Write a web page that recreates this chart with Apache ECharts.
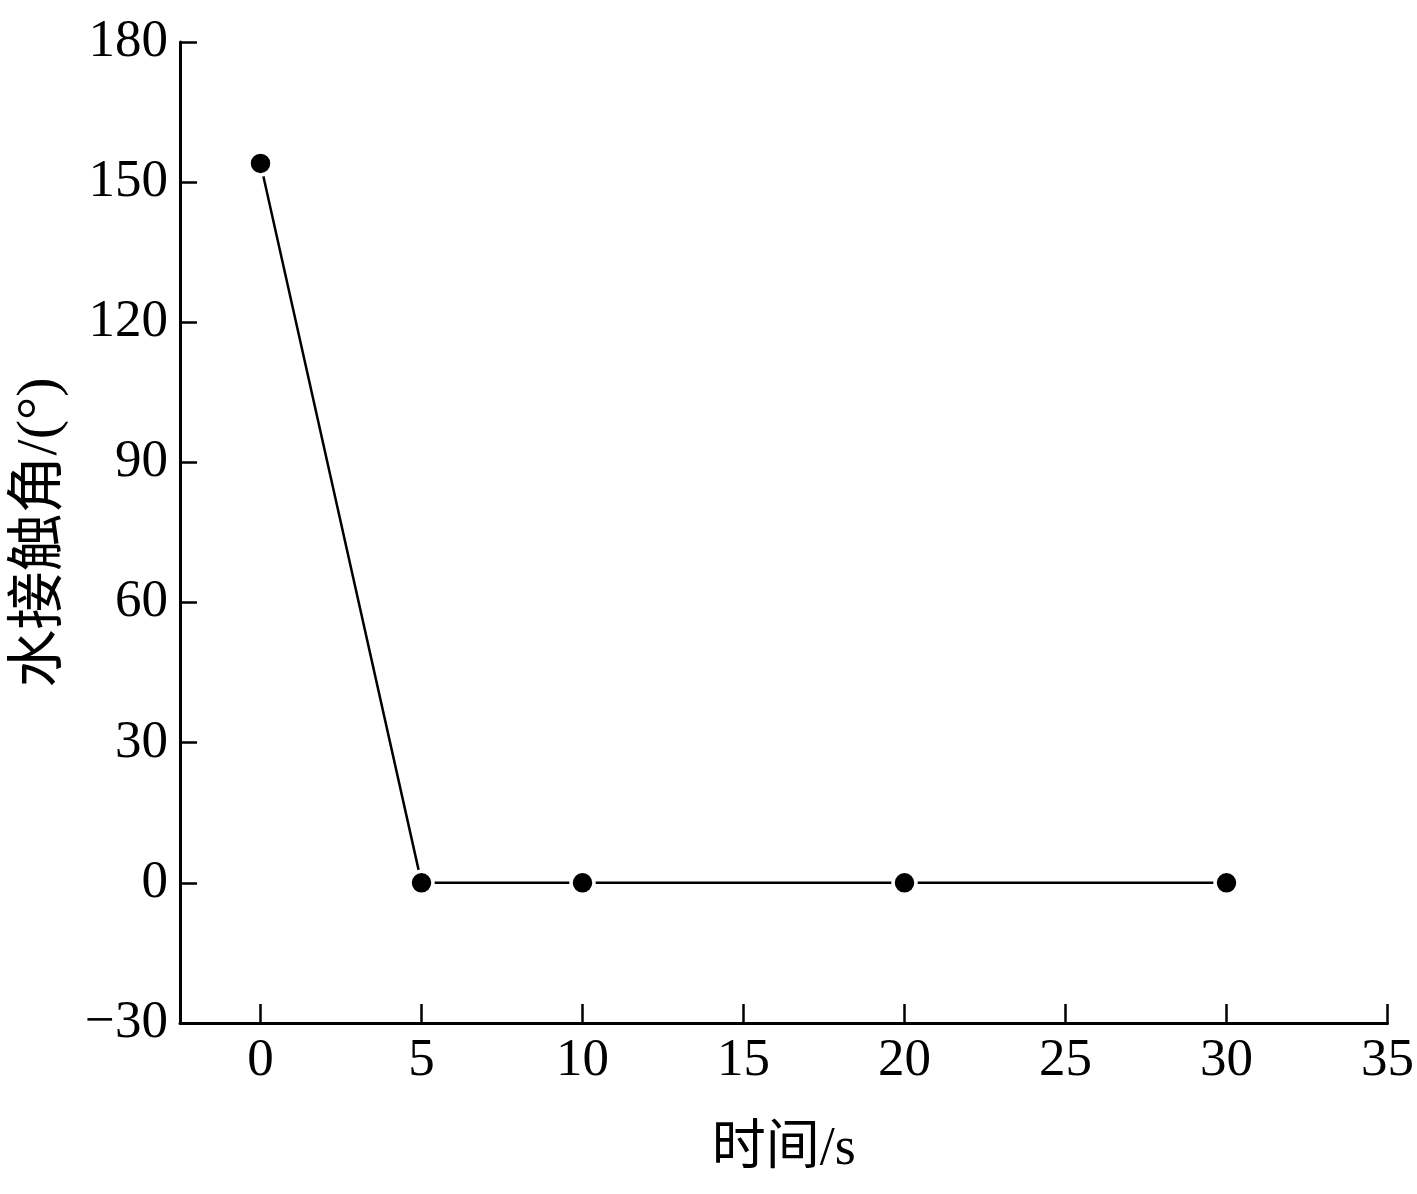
<!DOCTYPE html>
<html>
<head>
<meta charset="utf-8">
<script src="https://cdn.jsdelivr.net/npm/echarts@6/dist/echarts.min.js"></script>
<style>html,body{margin:0;padding:0;background:#fff;}#c{width:1417px;height:1194px;}</style>
</head>
<body>
<div id="c"></div>
<script>
const timeValues = [0, 5, 10, 20, 30];
const contactAngle = [154, 0, 0, 0, 0];
const xTicks = [0, 5, 10, 15, 20, 25, 30, 35];
const xTitle = '时间/s';
const yTitle = '水接触角/(°)';

const FONT = "'Liberation Serif', 'Noto Sans CJK SC', serif";
const chart = echarts.init(document.getElementById('c'));
chart.setOption({
  backgroundColor: '#fff',
  animation: false,
  grid: { left: 180, right: 27, top: 42, bottom: 171 },
  xAxis: {
    type: 'value',
    min: -2.5, max: 35,
    name: xTitle,
    nameLocation: 'middle',
    nameGap: 100,
    nameTextStyle: { fontFamily: FONT, fontSize: 54, color: '#000' },
    axisLine: { onZero: false, lineStyle: { color: '#000', width: 3 } },
    axisTick: { inside: true, length: 19, lineStyle: { color: '#000', width: 2.5 }, customValues: xTicks },
    axisLabel: { customValues: xTicks, fontFamily: FONT, fontSize: 53, color: '#000', margin: 12 },
    splitLine: { show: false }
  },
  yAxis: {
    type: 'value',
    min: -30, max: 180, interval: 30,
    name: yTitle,
    nameLocation: 'middle',
    nameGap: 110,
    nameRotate: 90,
    nameTextStyle: { fontFamily: FONT, fontSize: 58, color: '#000' },
    axisLine: { onZero: false, lineStyle: { color: '#000', width: 3 } },
    axisTick: { inside: true, length: 17, lineStyle: { color: '#000', width: 2.5 } },
    axisLabel: {
      fontFamily: FONT, fontSize: 53, color: '#000', margin: 12,
      formatter: v => (v < 0 ? '\u2212' + Math.abs(v) : String(v))
    },
    splitLine: { show: false }
  },
  series: [{
    type: 'line',
    data: timeValues.map((t, i) => [t, contactAngle[i]]),
    symbol: 'circle',
    symbolSize: 23,
    lineStyle: { color: '#000', width: 2.5 },
    itemStyle: { color: '#000', borderColor: '#fff', borderWidth: 3.5 }
  }]
});
</script>
</body>
</html>
